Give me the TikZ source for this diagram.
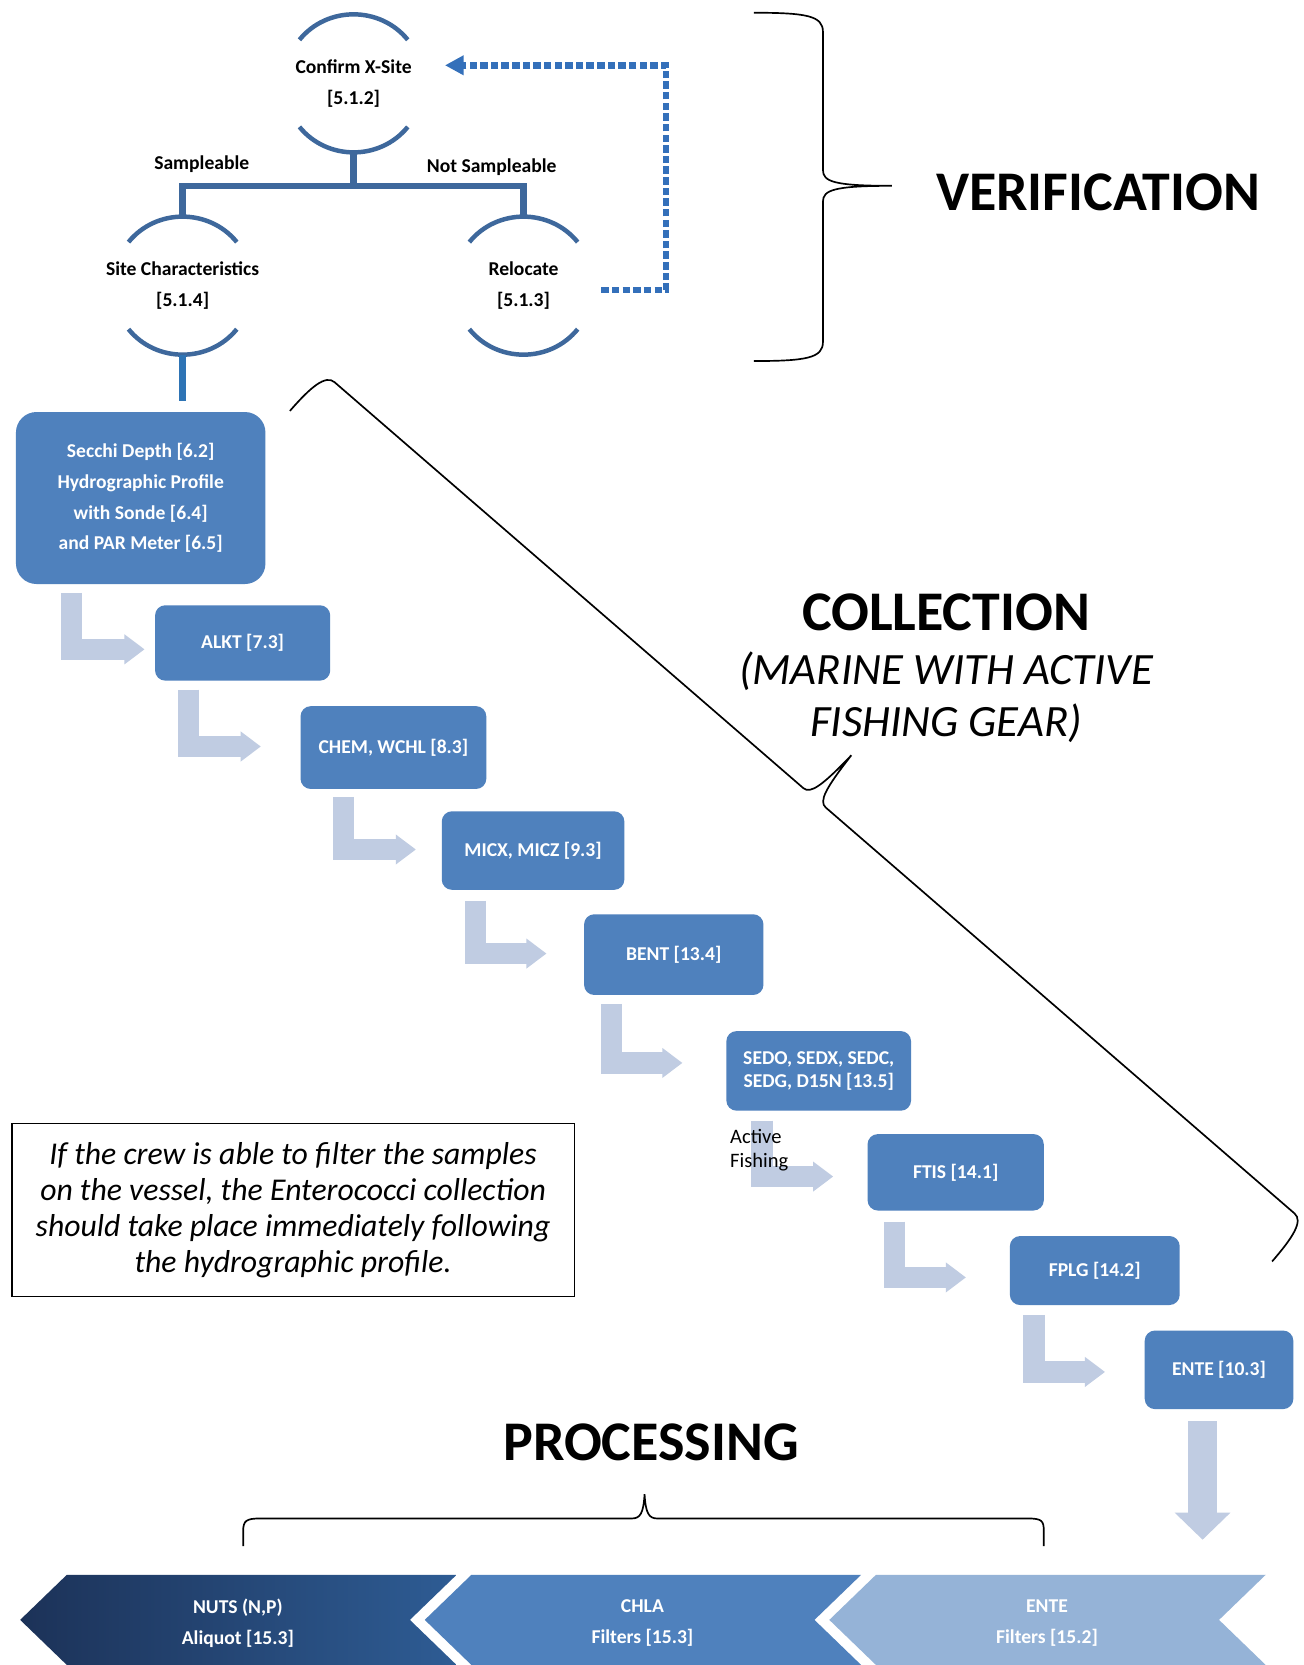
\documentclass[tikz,border=0pt]{standalone}
\usepackage{fontspec}
\setmainfont{Carlito}
\usetikzlibrary{calc,arrows.meta}
\definecolor{boxblue}{RGB}{79,129,189}
\definecolor{elbowc}{RGB}{192,204,226}
\definecolor{treec}{RGB}{62,104,156}
\definecolor{stemc}{RGB}{46,116,181}
\definecolor{dotc}{RGB}{52,112,186}
\definecolor{navyL}{RGB}{28,50,88}
\definecolor{navyR}{RGB}{46,92,148}
\definecolor{lightc}{RGB}{149,179,215}
\newcommand\pxu{0.56906pt}
\newcommand\twoarcs[1]{%
  \draw[arcline] ($(#1)+(-51,-41)$) .. controls +(26,-32) and +(-26,-32) .. ($(#1)+(51,-41)$);
  \draw[arcline] ($(#1)+(-51,41)$) .. controls +(26,32) and +(-26,32) .. ($(#1)+(51,41)$);}
\begin{document}
\begin{tikzpicture}[x=0.02cm, y=-0.02cm,
  smallbold/.style={font=\bfseries\fontsize{10.5}{16.5}\selectfont},
  arcnode/.style={smallbold, align=center, inner sep=0pt, minimum width=102*\pxu, minimum height=130*\pxu},
  arcline/.style={draw=treec, line width=2.4pt},
  tree/.style={draw=treec, line width=3.5pt, line join=miter},
  stem/.style={draw=stemc, line width=3.8pt},
  procbox/.style={fill=boxblue, text=white, rounded corners=5.5pt, inner sep=0pt, align=center, smallbold},
  elbow/.style={draw=elbowc, line width=11.4pt, line cap=butt, line join=miter, -{Triangle[length=10.8pt, width=15.4pt]}},
  downarr/.style={draw=elbowc, line width=15.4pt, line cap=butt, -{Triangle[length=14.5pt, width=29pt]}},
  dotline/.style={draw=dotc, line width=3.5pt, dash pattern=on 4pt off 1.7pt, -{Triangle[length=10pt, width=10pt]}},
  bracel/.style={draw=black, line width=0.9pt},
  title/.style={font=\bfseries\fontsize{30}{36}\selectfont},
  chevtext/.style={text=white, align=center, smallbold, inner sep=0pt},
  lbl/.style={smallbold, inner sep=0pt}
]
\fill[white] (0,0) rectangle (1228,1568);
\useasboundingbox (0,0) rectangle (1228,1568);

% ---------- verification tree ----------
\node[arcnode] (conf) at (333,78.5) {Confirm X-Site\\{[}5.1.2{]}};
\node[arcnode] (sitec) at (172,269) {Site Characteristics\\{[}5.1.4{]}};
\node[arcnode] (reloc) at (493,269) {Relocate\\{[}5.1.3{]}};
\twoarcs{conf}
\twoarcs{sitec}
\twoarcs{reloc}
\coordinate (junc) at ($(conf.south)+(0,31.5)$);
\draw[tree] (conf.south) -- (junc);
\draw[tree] (sitec.north) |- (junc) -| (reloc.north);
\node[lbl] (sampl) at (190,155) {Sampleable};
\node[lbl] (nsampl) at (463,157) {Not Sampleable};
\draw[dotline] ($(reloc.east)+(22,4)$) -- ++(61,0) |- ($(conf.east)+(31,-17)$);

% verification brace
\draw[bracel] (710,12) .. controls (760,12) and (775,15) .. (775,30) -- (775,160)
  .. controls (775,171) and (785,175) .. (840,175)
  .. controls (785,175) and (775,179) .. (775,190) -- (775,322)
  .. controls (775,337) and (760,340) .. (710,340);
\node[title] (verif) at (1034,181) {VERIFICATION};

% ---------- collection boxes ----------
\node[procbox, rounded corners=11pt, minimum width=235*\pxu, minimum height=162*\pxu] (secchi) at (132.5,469)
  {Secchi Depth {[}6.2{]}\\Hydrographic Profile\\with Sonde {[}6.4{]}\\and PAR Meter {[}6.5{]}};
\node[procbox, minimum width=165*\pxu, minimum height=71*\pxu] (alkt) at (228.5,605.5) {ALKT {[}7.3{]}};
\node[procbox, minimum width=175*\pxu, minimum height=78*\pxu] (chem) at (370.5,704) {CHEM, WCHL {[}8.3{]}};
\node[procbox, minimum width=172*\pxu, minimum height=74*\pxu] (micx) at (502,801) {MICX, MICZ {[}9.3{]}};
\node[procbox, minimum width=169*\pxu, minimum height=76*\pxu] (bent) at (634.5,899) {BENT {[}13.4{]}};
\node[procbox, minimum width=174*\pxu, minimum height=75*\pxu, font=\bfseries\fontsize{10.5}{12}\selectfont] (sedo) at (771,1008.5) {SEDO, SEDX, SEDC,\\SEDG, D15N {[}13.5{]}};
\node[procbox, minimum width=166*\pxu, minimum height=72*\pxu] (ftis) at (900,1104) {FTIS {[}14.1{]}};
\node[procbox, minimum width=160*\pxu, minimum height=65*\pxu] (fplg) at (1031,1196.5) {FPLG {[}14.2{]}};
\node[procbox, minimum width=140*\pxu, minimum height=74*\pxu] (ente) at (1148,1290) {ENTE {[}10.3{]}};

\draw[stem, shorten >=5.7pt] (sitec.south) -- (sitec.south |- secchi.north);

% elbow arrows
\draw[elbow] ($(secchi.south west)+(52.5,8)$) |- ($(alkt.west)+(-9.5,6)$);
\draw[elbow] ($(alkt.south west)+(32,8)$) |- ($(chem.west)+(-37,-1)$);
\draw[elbow] ($(chem.south west)+(41,7)$) |- ($(micx.west)+(-24,-1)$);
\draw[elbow] ($(micx.south west)+(32,10)$) |- ($(bent.west)+(-35,-1)$);
\draw[elbow] ($(bent.south west)+(26,8)$) |- ($(sedo.west)+(-41,-7.5)$);
\draw[elbow] ($(sedo.south west)+(34,9)$) |- ($(ftis.west)+(-32,4)$);
\draw[elbow] ($(ftis.south west)+(26,10)$) |- ($(fplg.west)+(-41,6.5)$);
\draw[elbow] ($(fplg.south west)+(23,9)$) |- ($(ente.west)+(-37,2)$);
\coordinate (entetip) at (1132.5,1450);
\draw[downarr] ($(ente.south)+(-15.5,11)$) -- (entetip);

\node[font=\fontsize{11}{13}\selectfont, align=left, inner sep=0pt] (active) at (715,1083) {Active\\Fishing};

% collection brace
\begin{scope}[shift={(273,387)}, rotate=-40.89]
\draw[bracel] (0,0) .. controls (0,-30) and (3,-48) .. (14,-48) -- (598,-48)
  .. controls (607,-48) and (610,-62) .. (612,-101)
  .. controls (614,-62) and (617,-48) .. (626,-48) -- (1210,-48)
  .. controls (1221,-48) and (1223.6,-30) .. (1223.6,0);
\end{scope}
\node[title] (coll) at (891,577) {COLLECTION};
\node[font=\itshape\fontsize{24}{27.8}\selectfont, align=center, inner sep=0pt] (collsub) at (891,656.5) {(MARINE WITH ACTIVE\\FISHING GEAR)};

% note
\node[draw=black, line width=0.9pt, minimum width=530*\pxu, minimum height=163*\pxu, align=center,
  font=\itshape\fontsize{17}{19.2}\selectfont] (note) at (276,1139.5)
  {If the crew is able to filter the samples\\on the vessel, the Enterococci collection\\should take place immediately following\\the hydrographic profile.};

% ---------- processing ----------
\node[title] (proc) at (613,1358) {PROCESSING};
\draw[bracel] (229,1456) -- (229,1442) .. controls (229,1432) and (232,1430) .. (245,1430) -- (595,1430)
  .. controls (603,1430) and (606,1425) .. (607,1407)
  .. controls (608,1425) and (611,1430) .. (619,1430) -- (968,1430)
  .. controls (981,1430) and (983,1432) .. (983,1442) -- (983,1456);

\shade[left color=navyL, right color=navyR] (19,1525.5) -- (63,1483) -- (430,1483) -- (386,1525.5) -- (430,1568) -- (63,1568) -- cycle;
\fill[boxblue] (400,1525.5) -- (444,1483) -- (811,1483) -- (767,1525.5) -- (811,1568) -- (444,1568) -- cycle;
\fill[lightc] (781,1525.5) -- (825,1483) -- (1192,1483) -- (1148,1525.5) -- (1192,1568) -- (825,1568) -- cycle;
\node[chevtext] (nuts) at (224,1528.5) {NUTS (N,P)\\Aliquot {[}15.3{]}};
\node[chevtext] (chla) at (605,1528.5) {CHLA\\Filters {[}15.3{]}};
\node[chevtext] (entep) at (986,1528.5) {ENTE\\Filters {[}15.2{]}};
\end{tikzpicture}
\end{document}
